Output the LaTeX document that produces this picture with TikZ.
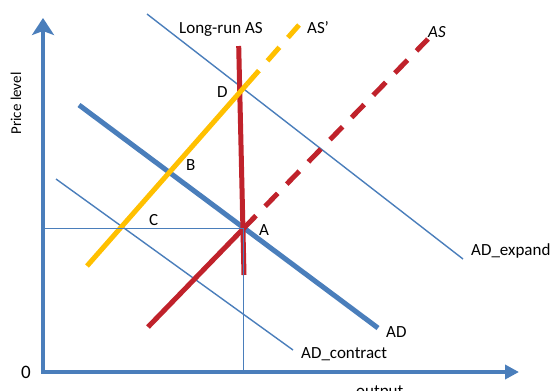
\documentclass[tikz,border=0pt]{standalone}
\usepackage{fontspec}
\setmainfont{Carlito}
\usetikzlibrary{arrows.meta}
\definecolor{axblue}{HTML}{4A7EBB}
\definecolor{asred}{HTML}{C0222B}
\definecolor{asyellow}{HTML}{FFC000}
\begin{document}
\begin{tikzpicture}[x=1bp,y=-1bp,
  lbl/.style={inner sep=0pt, anchor=base west, font=\fontsize{17bp}{20bp}\selectfont},
  axisline/.style={draw=axblue, line width=4.5bp, line join=miter},
  thickblue/.style={draw=axblue, line width=5bp},
  thinblue/.style={draw=axblue, line width=1.4bp},
  redline/.style={draw=asred, line width=5bp},
  yellowline/.style={draw=asyellow, line width=5bp},
  dashline/.style={dash pattern=on 18bp off 13bp}]
\useasboundingbox[fill=white] (0,0) rectangle (556,390);
% coordinates
\coordinate (ytop) at (43,18);
\coordinate (O) at (43,372);
\coordinate (xend) at (519,372);
\coordinate (ADa) at (79,105);
\coordinate (ADb) at (378,328);
\coordinate (ADca) at (56,179);
\coordinate (ADcb) at (293,350);
\coordinate (ADea) at (147,14);
\coordinate (ADeb) at (463,259);
\coordinate (LRa) at (238.7,46);
\coordinate (LRb) at (244,275);
\coordinate (ASa) at (148,327);
\coordinate (A) at (243.5,228.5);
\coordinate (ASb) at (428,39);
\coordinate (Ya) at (87,266);
\coordinate (Yd) at (247,84.1);
\coordinate (Yb) at (299,25);
\coordinate (Hl) at (43,228.5);
\coordinate (Vb) at (243.5,372);
% thin AD shifts
\draw[thinblue] (ADea) -- (ADeb);
\draw[thinblue] (ADca) -- (ADcb);
% AD
\draw[thickblue] (ADa) -- (ADb);
% AS red
\draw[redline] (ASa) -- (A);
\draw[redline, dashline] (A) -- (ASb);
% long-run AS
\draw[redline] (LRa) -- (LRb);
% AS' yellow
\draw[yellowline] (Ya) -- (Yd);
\draw[yellowline, dashline] (Yd) -- (Yb);
% reference lines
\draw[thinblue] (Hl) -- (A);
\draw[thinblue] (A) -- (Vb);
% axes
\draw[axisline, {Stealth[length=17bp,width=22bp,inset=4bp]}-{Triangle[length=14bp,width=14bp]}] (ytop) -- (O) -- (xend);
% labels
\node[lbl, anchor=center, rotate=90, font=\fontsize{15bp}{18bp}\selectfont] (lP) at (16,103.5) {Price level};
\node[lbl, font=\fontsize{19bp}{22bp}\selectfont] (l0) at (21,378) {0};
\node[lbl] (lout) at (356,396) {output};
\node[lbl] (lLR) at (179,33) {Long-run AS};
\node[lbl] (lASp) at (307,33) {AS’};
\node[lbl, font=\fontsize{17bp}{20bp}\selectfont\itshape] (lAS) at (428,37) {AS};
\node[lbl] (lD) at (217,97) {D};
\node[lbl] (lB) at (186,170) {B};
\node[lbl] (lC) at (149,225) {C};
\node[lbl] (lA) at (259,235) {A};
\node[lbl] (lADe) at (471,255) {AD\_expand};
\node[lbl] (lAD) at (386,337) {AD};
\node[lbl] (lADc) at (301,358) {AD\_contract};
\end{tikzpicture}
\end{document}
